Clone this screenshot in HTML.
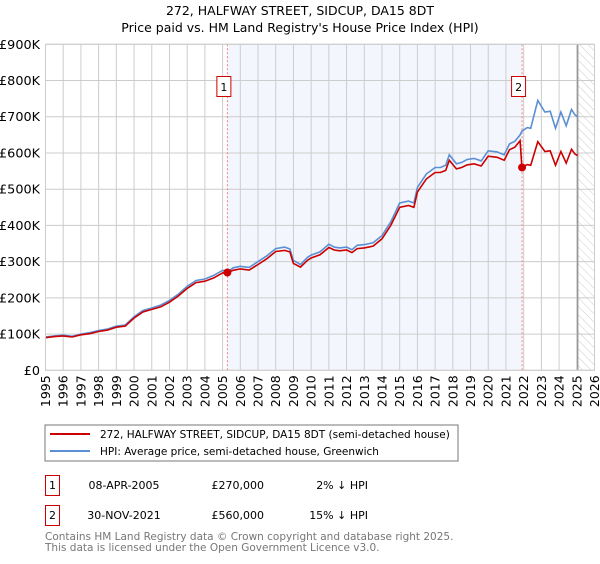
<!DOCTYPE html>
<html><head><meta charset="utf-8"><style>
body{margin:0;background:#fff;font-family:"DejaVu Sans","Liberation Sans",sans-serif}
svg text{font-family:"DejaVu Sans","Liberation Sans",sans-serif}
</style></head><body>
<svg id="c" width="600" height="560" viewBox="0 0 600 560">
<defs><pattern id="hatch" width="6" height="6" patternUnits="userSpaceOnUse" patternTransform="rotate(-45)"><line x1="0" y1="0" x2="0" y2="6" stroke="#ccc" stroke-width="1"/></pattern></defs>
<text x="300" y="15" text-anchor="middle" font-size="12.5">272, HALFWAY STREET, SIDCUP, DA15 8DT</text>
<text x="300" y="32" text-anchor="middle" font-size="12.5">Price paid vs. HM Land Registry's House Price Index (HPI)</text>
<g id="plot"></g>
<rect x="45" y="425" width="413" height="36" fill="#fff" stroke="#777"/>
<line x1="50" y1="434" x2="90" y2="434" stroke="#cc0000" stroke-width="2"/>
<text x="100" y="438" font-size="10.5">272, HALFWAY STREET, SIDCUP, DA15 8DT (semi-detached house)</text>
<line x1="50" y1="451" x2="90" y2="451" stroke="#5b8fd4" stroke-width="2"/>
<text x="100" y="455" font-size="10.5">HPI: Average price, semi-detached house, Greenwich</text>
<g>
<rect x="45.5" y="475.5" width="14" height="20" fill="none" stroke="#cc0000"/>
<text x="52.5" y="489" text-anchor="middle" font-size="11">1</text>
<text x="124" y="489" text-anchor="middle" font-size="11">08-APR-2005</text>
<text x="264" y="489" text-anchor="end" font-size="11">£270,000</text>
<text x="368" y="489" text-anchor="end" font-size="11">2% ↓ HPI</text></g>
<g>
<rect x="45.5" y="505.5" width="14" height="20" fill="none" stroke="#cc0000"/>
<text x="52.5" y="519" text-anchor="middle" font-size="11">2</text>
<text x="124" y="519" text-anchor="middle" font-size="11">30-NOV-2021</text>
<text x="264" y="519" text-anchor="end" font-size="11">£560,000</text>
<text x="368" y="519" text-anchor="end" font-size="11">15% ↓ HPI</text></g>
<text x="45" y="540" font-size="10.5" fill="#777">Contains HM Land Registry data © Crown copyright and database right 2025.</text>
<text x="45" y="551" font-size="10.5" fill="#777">This data is licensed under the Open Government Licence v3.0.</text>
</svg>
<script>
const dates=[1995,1995.5,1996,1996.5,1997,1997.5,1998,1998.5,1999,1999.5,2000,2000.5,2001,2001.5,2002,2002.5,2003,2003.5,2004,2004.5,2005,2005.3,2005.6,2006,2006.5,2007,2007.5,2008,2008.5,2008.8,2009,2009.4,2009.8,2010,2010.5,2011,2011.3,2011.6,2012,2012.3,2012.6,2013,2013.5,2014,2014.5,2015,2015.5,2015.8,2016,2016.5,2017,2017.3,2017.6,2017.8,2018.2,2018.5,2018.8,2019.2,2019.6,2020,2020.5,2020.9,2021.2,2021.5,2021.8,2021.9,2022.2,2022.4,2022.8,2023.2,2023.5,2023.8,2024.1,2024.4,2024.7,2024.9,2025.05];
const hpiValues=[92,95,97,94,100,104,110,114,122,125,148,165,172,180,193,210,232,248,252,262,276,272,283,287,284,300,316,336,340,335,303,292,312,318,327,348,340,338,340,333,345,347,352,372,410,462,467,462,505,542,560,560,566,595,570,574,582,585,578,606,603,595,625,632,650,660,670,668,745,713,715,668,713,675,720,705,700];
const priceValues=[90,93,95,92,98,101,107,111,119,122,144,161,168,175,188,205,226,242,246,255,269,270,276,280,277,292,308,328,331,327,295,285,304,310,319,339,332,330,332,325,336,338,343,363,400,450,455,450,492,528,546,546,552,580,556,560,567,570,564,591,588,580,609,616,634,560,568,566,631,604,606,566,604,572,610,597,593];
const saleDates=[2005.27,2021.91];
const salePrices=[270,560];
const saleLabels=["1","2"];
const yTicks=[0,100,200,300,400,500,600,700,800,900];
const yTickLabels=["£0","£100K","£200K","£300K","£400K","£500K","£600K","£700K","£800K","£900K"];
const xTicks=[1995,1996,1997,1998,1999,2000,2001,2002,2003,2004,2005,2006,2007,2008,2009,2010,2011,2012,2013,2014,2015,2016,2017,2018,2019,2020,2021,2022,2023,2024,2025,2026];
const hatchStart=2025.05;
const X0=45.5,X1=594.5,Y0=370.3,Y1=44.3;
const xs=d=>X0+(d-1995)/(2026-1995)*(X1-X0);
const ys=v=>Y0-v/900*(Y0-Y1);
const NS="http://www.w3.org/2000/svg";
const g=document.getElementById('plot');
function mk(t,a,p){const e=document.createElementNS(NS,t);for(const k in a)e.setAttribute(k,a[k]);(p||g).appendChild(e);return e;}
const bg=mk('rect',{x:X0,y:Y1,width:X1-X0,height:Y0-Y1,fill:'#fff'});


const sh=mk('rect',{x:xs(saleDates[0]),y:Y1,width:xs(saleDates[1])-xs(saleDates[0]),height:Y0-Y1,fill:'#eef3fc',opacity:0.7});


const ht=mk('rect',{x:xs(hatchStart),y:Y1,width:X1-xs(hatchStart),height:Y0-Y1,fill:'url(#hatch)'});


xTicks.forEach(t=>{const l=mk('line',{x1:xs(t),x2:xs(t),y1:Y1,y2:Y0,stroke:'#ccc'});


const tx=mk('text',{x:xs(t)+4.5,y:Y0+5,'font-size':12.5,transform:`rotate(-90 ${xs(t)+4.5} ${Y0+5})`,'text-anchor':'end'});tx.textContent=t;

});
yTicks.forEach((t,i)=>{const l=mk('line',{x1:X0,x2:X1,y1:ys(t),y2:ys(t),stroke:'#ccc'});


const tx=mk('text',{x:40,y:ys(t)+4.5,'font-size':12.8,'text-anchor':'end'});tx.textContent=yTickLabels[i];

});
const vl=mk('line',{x1:xs(hatchStart),x2:xs(hatchStart),y1:Y1,y2:Y0,stroke:'#999','stroke-width':1.5});


saleDates.forEach((d,i)=>{const l=mk('line',{x1:xs(d),x2:xs(d),y1:Y1,y2:Y0,stroke:'#f08080','stroke-dasharray':'2,2'});


const r=mk('rect',{x:xs(d)-10.5,y:76.5,width:14,height:20,fill:'#fff',stroke:'#cc0000'});


const t=mk('text',{x:xs(d)-3.5,y:91,'font-size':11,'text-anchor':'middle'});t.textContent=saleLabels[i];

});
const pts=a=>dates.map((d,i)=>xs(d).toFixed(1)+','+ys(a[i]).toFixed(1)).join(' ');
const hl=mk('polyline',{points:pts(hpiValues),fill:'none',stroke:'#5b8fd4','stroke-width':1.6});


const pl=mk('polyline',{points:pts(priceValues),fill:'none',stroke:'#cc0000','stroke-width':1.6});


saleDates.forEach((d,i)=>{const c=mk('circle',{cx:xs(d),cy:ys(salePrices[i]),r:4,fill:'#cc0000'});

});
const fr=mk('rect',{x:X0,y:Y1,width:X1-X0,height:Y0-Y1,fill:'none',stroke:'#ccc'});


</script>
</body></html>
